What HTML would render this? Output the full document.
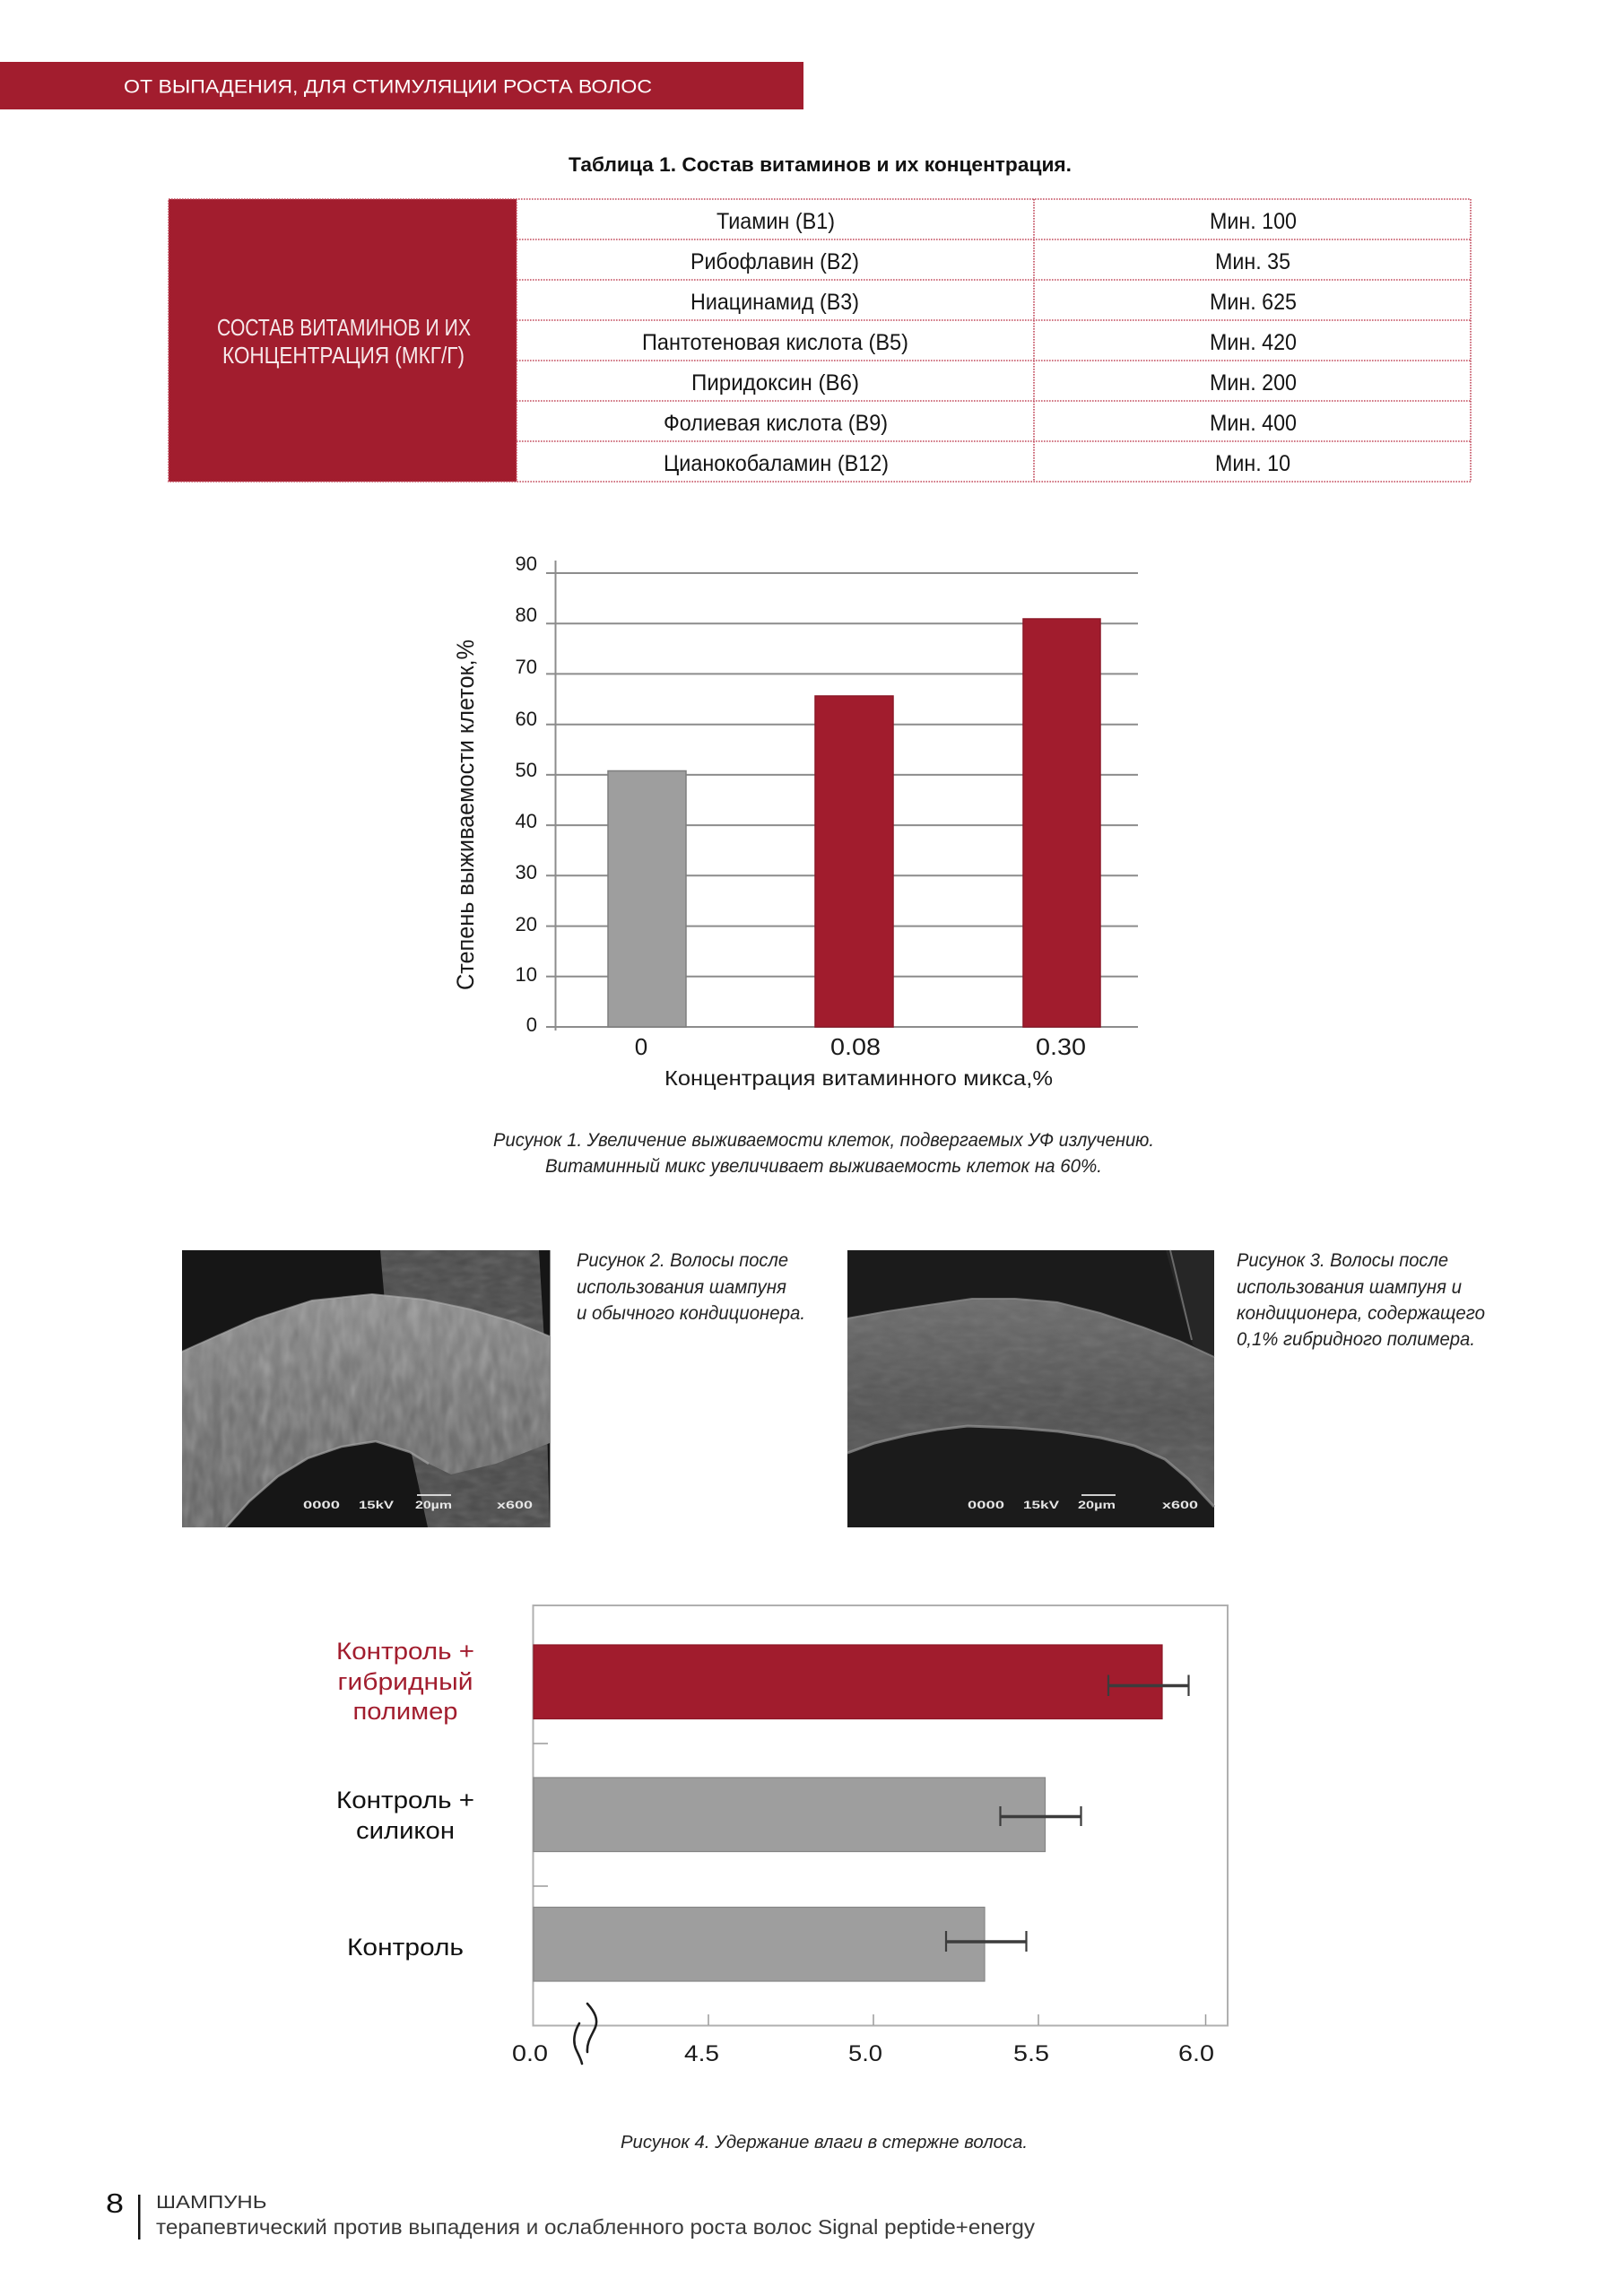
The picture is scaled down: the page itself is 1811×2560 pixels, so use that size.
<!DOCTYPE html>
<html>
<head>
<meta charset="utf-8">
<style>
html,body{margin:0;padding:0;background:#fff;}
svg{display:block;}
text{font-family:"Liberation Sans","DejaVu Sans",sans-serif;}
</style>
</head>
<body>
<svg width="1811" height="2560" viewBox="0 0 1811 2560" xmlns="http://www.w3.org/2000/svg">
<defs>
  <filter id="noise1" x="0" y="0" width="100%" height="100%">
    <feTurbulence type="fractalNoise" baseFrequency="0.09 0.035" numOctaves="2" seed="3"/>
    <feColorMatrix type="saturate" values="0"/>
  </filter>
  <filter id="noise2" x="0" y="0" width="100%" height="100%">
    <feTurbulence type="fractalNoise" baseFrequency="0.05 0.12" numOctaves="2" seed="7"/>
    <feColorMatrix type="saturate" values="0"/>
  </filter>
  <linearGradient id="band1" x1="0" y1="0" x2="0" y2="1">
    <stop offset="0" stop-color="#8a8a8a"/>
    <stop offset="0.5" stop-color="#6e6e6e"/>
    <stop offset="1" stop-color="#5a5a5a"/>
  </linearGradient>
  <linearGradient id="band2" x1="0" y1="0" x2="0" y2="1">
    <stop offset="0" stop-color="#6c6c6c"/>
    <stop offset="0.55" stop-color="#535353"/>
    <stop offset="1" stop-color="#5e5e5e"/>
  </linearGradient>
  <clipPath id="clipB1"><path d="M0,113 L40,95 L83,76 L145,56 L212,49 L270,55 L322,66 L370,80 L410,96 L410,215 L350,238 L300,250 L275,238 L254,225 L216,213 L178,219 L140,232 L107,252 L75,280 L49,309 L0,309 Z"/></clipPath>
  <clipPath id="clipV1"><polygon points="221,0 398,0 405,120 410,309 274,309 250,200 228,80"/></clipPath>
  <clipPath id="clipB2"><path d="M0,76 L45,68 L91,61 L139,54 L187,54 L234,58 L282,70 L330,86 L370,101 L409,119 L409,286 L380,255 L354,233 L320,218 L282,209 L235,202 L187,198 L134,196 L100,200 L67,206 L30,215 L0,226 Z"/></clipPath>
</defs>

<!-- Header bar -->
<rect x="0" y="69" width="896" height="53" fill="#a21d2e"/>
<text x="138" y="103.5" font-size="21" fill="#ffffff" textLength="589" lengthAdjust="spacingAndGlyphs">ОТ ВЫПАДЕНИЯ, ДЛЯ СТИМУЛЯЦИИ РОСТА ВОЛОС</text>

<!-- Table title -->
<text x="634" y="191" font-size="22" font-weight="bold" fill="#111" textLength="561" lengthAdjust="spacingAndGlyphs">Таблица 1. Состав витаминов и их концентрация.</text>

<!-- Table -->
<rect x="188" y="222" width="388" height="315" fill="#a21d2e"/>
<g stroke="#c24a5c" stroke-width="1.6" stroke-dasharray="1.6 1.4" fill="none">
  <rect x="188" y="222" width="1452" height="315"/>
  <line x1="576" y1="222" x2="576" y2="537"/>
  <line x1="1153" y1="222" x2="1153" y2="537"/>
  <line x1="576" y1="267" x2="1640" y2="267"/>
  <line x1="576" y1="312" x2="1640" y2="312"/>
  <line x1="576" y1="357" x2="1640" y2="357"/>
  <line x1="576" y1="402" x2="1640" y2="402"/>
  <line x1="576" y1="447" x2="1640" y2="447"/>
  <line x1="576" y1="492" x2="1640" y2="492"/>
</g>
<text x="242" y="374" font-size="26" fill="#f6e8ea" textLength="283" lengthAdjust="spacingAndGlyphs">СОСТАВ ВИТАМИНОВ И ИХ</text>
<text x="248" y="405" font-size="26" fill="#f6e8ea" textLength="270" lengthAdjust="spacingAndGlyphs">КОНЦЕНТРАЦИЯ (МКГ/Г)</text>

<g font-size="25" fill="#151515">
  <text x="799" y="255" textLength="132" lengthAdjust="spacingAndGlyphs">Тиамин (В1)</text>
  <text x="770" y="300" textLength="188" lengthAdjust="spacingAndGlyphs">Рибофлавин (В2)</text>
  <text x="770" y="345" textLength="188" lengthAdjust="spacingAndGlyphs">Ниацинамид (В3)</text>
  <text x="716" y="390" textLength="297" lengthAdjust="spacingAndGlyphs">Пантотеновая кислота (В5)</text>
  <text x="771" y="435" textLength="187" lengthAdjust="spacingAndGlyphs">Пиридоксин (В6)</text>
  <text x="740" y="480" textLength="250" lengthAdjust="spacingAndGlyphs">Фолиевая кислота (В9)</text>
  <text x="740" y="525" textLength="251" lengthAdjust="spacingAndGlyphs">Цианокобаламин (В12)</text>

  <text x="1349" y="255" textLength="97" lengthAdjust="spacingAndGlyphs">Мин. 100</text>
  <text x="1355" y="300" textLength="84" lengthAdjust="spacingAndGlyphs">Мин. 35</text>
  <text x="1349" y="345" textLength="97" lengthAdjust="spacingAndGlyphs">Мин. 625</text>
  <text x="1349" y="390" textLength="97" lengthAdjust="spacingAndGlyphs">Мин. 420</text>
  <text x="1349" y="435" textLength="97" lengthAdjust="spacingAndGlyphs">Мин. 200</text>
  <text x="1349" y="480" textLength="97" lengthAdjust="spacingAndGlyphs">Мин. 400</text>
  <text x="1355" y="525" textLength="84" lengthAdjust="spacingAndGlyphs">Мин. 10</text>
</g>

<!-- Chart 1 -->
<g stroke="#8c8c8c" stroke-width="2">
  <line x1="609" y1="639" x2="1269" y2="639"/>
  <line x1="609" y1="695.2" x2="1269" y2="695.2"/>
  <line x1="609" y1="751.4" x2="1269" y2="751.4"/>
  <line x1="609" y1="807.7" x2="1269" y2="807.7"/>
  <line x1="609" y1="863.9" x2="1269" y2="863.9"/>
  <line x1="609" y1="920.1" x2="1269" y2="920.1"/>
  <line x1="609" y1="976.3" x2="1269" y2="976.3"/>
  <line x1="609" y1="1032.6" x2="1269" y2="1032.6"/>
  <line x1="609" y1="1088.8" x2="1269" y2="1088.8"/>
  <line x1="609" y1="1145" x2="1269" y2="1145"/>
  <line x1="619.5" y1="625" x2="619.5" y2="1149"/>
</g>
<rect x="678" y="859.5" width="87" height="285.5" fill="#9e9e9e" stroke="#7e7e7e" stroke-width="1.5"/>
<rect x="909" y="776" width="87" height="369" fill="#a11c2d" stroke="#8c1626" stroke-width="1.5"/>
<rect x="1141" y="690" width="86" height="455" fill="#a11c2d" stroke="#8c1626" stroke-width="1.5"/>

<g font-size="22" fill="#1a1a1a" text-anchor="end">
  <text x="599" y="636">90</text>
  <text x="599" y="693">80</text>
  <text x="599" y="751">70</text>
  <text x="599" y="809">60</text>
  <text x="599" y="866">50</text>
  <text x="599" y="923">40</text>
  <text x="599" y="980">30</text>
  <text x="599" y="1038">20</text>
  <text x="599" y="1094">10</text>
  <text x="599" y="1150">0</text>
</g>
<g font-size="26" fill="#1a1a1a" text-anchor="middle">
  <text x="715" y="1176">0</text>
  <text x="954" y="1176" textLength="56" lengthAdjust="spacingAndGlyphs">0.08</text>
  <text x="1183" y="1176" textLength="56" lengthAdjust="spacingAndGlyphs">0.30</text>
</g>
<text x="741" y="1210" font-size="23" fill="#1a1a1a" textLength="433" lengthAdjust="spacingAndGlyphs">Концентрация витаминного микса,%</text>
<text transform="translate(528,908.5) rotate(-90)" x="0" y="0" font-size="27" fill="#1a1a1a" text-anchor="middle" textLength="391" lengthAdjust="spacingAndGlyphs">Степень выживаемости клеток,%</text>

<g font-size="21" font-style="italic" fill="#222">
  <text x="550" y="1278" textLength="737" lengthAdjust="spacingAndGlyphs">Рисунок 1. Увеличение выживаемости клеток, подвергаемых УФ излучению.</text>
  <text x="608" y="1307" textLength="621" lengthAdjust="spacingAndGlyphs">Витаминный микс увеличивает выживаемость клеток на 60%.</text>
</g>

<!-- Photo 1 -->
<g transform="translate(203,1394)">
  <rect x="0" y="0" width="410.5" height="309" fill="#161616"/>
  <polygon points="221,0 398,0 405,120 410,309 274,309 250,200 228,80" fill="#4a4a4a"/>
  <g clip-path="url(#clipV1)">
    <rect x="0" y="0" width="410" height="309" filter="url(#noise2)" opacity="0.22"/>
  </g>
  <path d="M0,113 L40,95 L83,76 L145,56 L212,49 L270,55 L322,66 L370,80 L410,96 L410,215 L350,238 L300,250 L275,238 L254,225 L216,213 L178,219 L140,232 L107,252 L75,280 L49,309 L0,309 Z" fill="url(#band1)"/>
  <g clip-path="url(#clipB1)">
    <rect x="0" y="0" width="410" height="309" filter="url(#noise1)" opacity="0.45"/>
  </g>
  <polyline points="0,113 40,95 83,76 145,56 212,49 270,55 322,66 370,80 410,96" fill="none" stroke="#b0b0b0" stroke-width="2" opacity="0.6"/>
  <polyline points="49,309 75,280 107,252 140,232 178,219 216,213 254,225 275,238" fill="none" stroke="#a5a5a5" stroke-width="2.5" opacity="0.7"/>
  <line x1="262" y1="273" x2="300" y2="273" stroke="#e8e8e8" stroke-width="1.8"/>
  <g font-size="11.5" font-weight="bold" fill="#e6e6e6" font-family="Liberation Mono, monospace">
    <text x="135" y="288" textLength="41" lengthAdjust="spacingAndGlyphs">0000</text>
    <text x="197" y="288" textLength="39" lengthAdjust="spacingAndGlyphs">15kV</text>
    <text x="260" y="288" textLength="41" lengthAdjust="spacingAndGlyphs">20µm</text>
    <text x="351" y="288" textLength="40" lengthAdjust="spacingAndGlyphs">x600</text>
  </g>
</g>

<g font-size="21" font-style="italic" fill="#222">
  <text x="643" y="1412" textLength="236" lengthAdjust="spacingAndGlyphs">Рисунок 2. Волосы после</text>
  <text x="643" y="1442" textLength="234" lengthAdjust="spacingAndGlyphs">использования шампуня</text>
  <text x="643" y="1471" textLength="255" lengthAdjust="spacingAndGlyphs">и обычного кондиционера.</text>
</g>

<!-- Photo 2 -->
<g transform="translate(945,1394)">
  <rect x="0" y="0" width="409" height="309" fill="#1b1b1b"/>
  <polygon points="355,0 409,0 409,125 385,105" fill="#262626"/>
  <line x1="360" y1="0" x2="384" y2="100" stroke="#6a6a6a" stroke-width="2"/>
  <path d="M0,76 L45,68 L91,61 L139,54 L187,54 L234,58 L282,70 L330,86 L370,101 L409,119 L409,286 L380,255 L354,233 L320,218 L282,209 L235,202 L187,198 L134,196 L100,200 L67,206 L30,215 L0,226 Z" fill="url(#band2)"/>
  <g clip-path="url(#clipB2)">
    <rect x="0" y="0" width="409" height="309" filter="url(#noise2)" opacity="0.15"/>
  </g>
  <polyline points="0,76 45,68 91,61 139,54 187,54 234,58 282,70 330,86 370,101 409,119" fill="none" stroke="#8e8e8e" stroke-width="2" opacity="0.7"/>
  <polyline points="409,286 380,255 354,233 320,218 282,209 235,202 187,198 134,196 100,200 67,206 30,215 0,226" fill="none" stroke="#909090" stroke-width="3" opacity="0.75"/>
  <line x1="261" y1="273" x2="299" y2="273" stroke="#e8e8e8" stroke-width="1.8"/>
  <g font-size="11.5" font-weight="bold" fill="#e6e6e6" font-family="Liberation Mono, monospace">
    <text x="134" y="288" textLength="41" lengthAdjust="spacingAndGlyphs">0000</text>
    <text x="196" y="288" textLength="40" lengthAdjust="spacingAndGlyphs">15kV</text>
    <text x="257" y="288" textLength="42" lengthAdjust="spacingAndGlyphs">20µm</text>
    <text x="351" y="288" textLength="40" lengthAdjust="spacingAndGlyphs">x600</text>
  </g>
</g>

<g font-size="21" font-style="italic" fill="#222">
  <text x="1379" y="1412" textLength="236" lengthAdjust="spacingAndGlyphs">Рисунок 3. Волосы после</text>
  <text x="1379" y="1442" textLength="251" lengthAdjust="spacingAndGlyphs">использования шампуня и</text>
  <text x="1379" y="1471" textLength="277" lengthAdjust="spacingAndGlyphs">кондиционера, содержащего</text>
  <text x="1379" y="1500" textLength="266" lengthAdjust="spacingAndGlyphs">0,1% гибридного полимера.</text>
</g>

<!-- Chart 2 -->
<rect x="594.5" y="1790" width="774.5" height="468.5" fill="none" stroke="#b0b0b0" stroke-width="2"/>
<g stroke="#9a9a9a" stroke-width="1.5">
  <line x1="594.5" y1="1944" x2="611" y2="1944"/>
  <line x1="594.5" y1="2103" x2="611" y2="2103"/>
  <line x1="790" y1="2246" x2="790" y2="2258"/>
  <line x1="974" y1="2246" x2="974" y2="2258"/>
  <line x1="1158" y1="2246" x2="1158" y2="2258"/>
  <line x1="1344.5" y1="2246" x2="1344.5" y2="2258"/>
</g>
<rect x="595" y="1834" width="701" height="82.5" fill="#a11c2d" stroke="#8c1626" stroke-width="1.2"/>
<rect x="595" y="1982" width="570.5" height="82.5" fill="#9e9e9e" stroke="#858585" stroke-width="1.2"/>
<rect x="595" y="2126.5" width="503" height="82.5" fill="#9e9e9e" stroke="#858585" stroke-width="1.2"/>

<g stroke="#3c3c3c" fill="none">
  <line x1="1235" y1="1879.5" x2="1326" y2="1879.5" stroke-width="3.5"/>
  <line x1="1236" y1="1867.5" x2="1236" y2="1891" stroke-width="2.2"/>
  <line x1="1325.5" y1="1867.5" x2="1325.5" y2="1891" stroke-width="2.2"/>
  <line x1="1115" y1="2025.5" x2="1206" y2="2025.5" stroke-width="3.5"/>
  <line x1="1115.5" y1="2014" x2="1115.5" y2="2036" stroke-width="2.2"/>
  <line x1="1205.5" y1="2014" x2="1205.5" y2="2036" stroke-width="2.2"/>
  <line x1="1054.5" y1="2165" x2="1145" y2="2165" stroke-width="3.5"/>
  <line x1="1055" y1="2153" x2="1055" y2="2176" stroke-width="2.2"/>
  <line x1="1144.5" y1="2153" x2="1144.5" y2="2176" stroke-width="2.2"/>
</g>

<!-- axis break -->
<g fill="none" stroke="#1e1e1e" stroke-width="2.6" stroke-linecap="round">
  <path d="M655,2234 C 664,2244 667,2252 664,2260 C 661,2268 654,2276 655,2288"/>
  <path d="M646,2256 C 640,2266 639,2276 642,2284 C 645,2291 648,2296 649,2301"/>
</g>

<g font-size="27" fill="#a21d2e" text-anchor="middle">
  <text x="452" y="1850" textLength="154" lengthAdjust="spacingAndGlyphs">Контроль +</text>
  <text x="452" y="1884" textLength="151" lengthAdjust="spacingAndGlyphs">гибридный</text>
  <text x="452" y="1917" textLength="117" lengthAdjust="spacingAndGlyphs">полимер</text>
</g>
<g font-size="27" fill="#111" text-anchor="middle">
  <text x="452" y="2016" textLength="154" lengthAdjust="spacingAndGlyphs">Контроль +</text>
  <text x="452" y="2050" textLength="110" lengthAdjust="spacingAndGlyphs">силикон</text>
  <text x="452" y="2180" textLength="130" lengthAdjust="spacingAndGlyphs">Контроль</text>
</g>
<g font-size="25" fill="#1a1a1a" text-anchor="middle">
  <text x="591" y="2298" textLength="40" lengthAdjust="spacingAndGlyphs">0.0</text>
  <text x="782.5" y="2298" textLength="39" lengthAdjust="spacingAndGlyphs">4.5</text>
  <text x="965" y="2298" textLength="38" lengthAdjust="spacingAndGlyphs">5.0</text>
  <text x="1150" y="2298" textLength="40" lengthAdjust="spacingAndGlyphs">5.5</text>
  <text x="1334" y="2298" textLength="40" lengthAdjust="spacingAndGlyphs">6.0</text>
</g>

<text x="692" y="2395" font-size="20" font-style="italic" fill="#222" textLength="454" lengthAdjust="spacingAndGlyphs">Рисунок 4. Удержание влаги в стержне волоса.</text>

<!-- Footer -->
<text x="118" y="2467" font-size="31" fill="#111" textLength="20" lengthAdjust="spacingAndGlyphs">8</text>
<rect x="154" y="2447" width="2.5" height="50" fill="#111"/>
<text x="174" y="2462" font-size="20" fill="#333" textLength="123.5" lengthAdjust="spacingAndGlyphs">ШАМПУНЬ</text>
<text x="174" y="2491" font-size="23" fill="#3a3a3a" textLength="980" lengthAdjust="spacingAndGlyphs">терапевтический против выпадения и ослабленного роста волос Signal peptide+energy</text>
</svg>
</body>
</html>
